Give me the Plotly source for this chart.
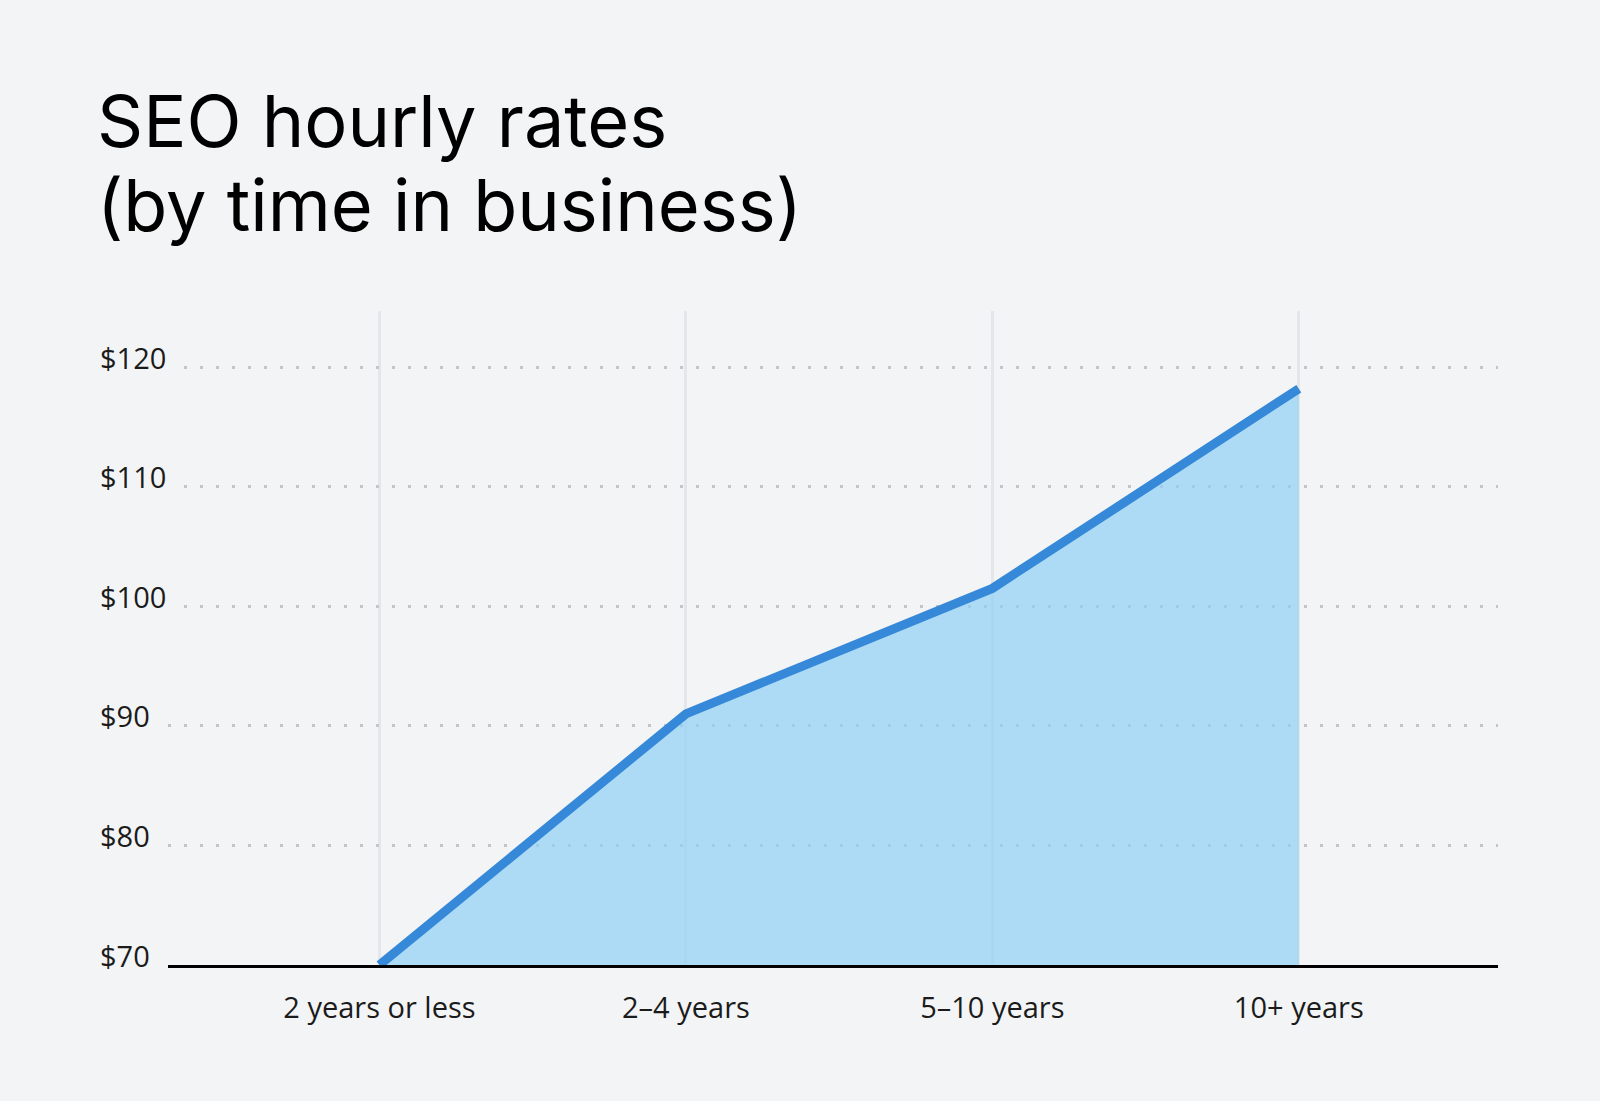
import plotly.graph_objects as go

categories = ["2 years or less", "2\u20134 years", "5\u201310 years", "10+ years"]
rates = [70, 91, 101.5, 118.2]
tick_values = [70, 80, 90, 100, 110, 120]
tick_labels = ["$70", "$80", "$90", "$100", "$110", "$120"]
title_lines = ["SEO hourly rates", "(by time in business)"]

BG = "#f3f4f6"
W, H = 1600, 1101
L, R, T, B = 168, 102, 311, 136
plot_w = W - L - R
plot_h = H - T - B


def paper_y(px):
    return (H - B - px) / plot_h


fig = go.Figure()
fig.add_trace(go.Scatter(
    x=categories, y=rates, mode="lines",
    line=dict(color="#3589d8", width=9),
    fill="tozeroy", fillcolor="rgba(142,208,246,0.7)",
    hoverinfo="skip", showlegend=False,
))

annotations = []
for v, t in zip(tick_values, tick_labels):
    annotations.append(dict(
        x=(100 - 10 - L) / plot_w, xref="paper", xanchor="left",
        y=v, yref="y", yanchor="middle", yshift=10,
        text=t, showarrow=False,
        font=dict(family="Open Sans", size=29, color="#1b1b1b"),
        bgcolor=BG, borderpad=10, borderwidth=0,
    ))

for line, bottom_px in zip(title_lines, [164, 248]):
    annotations.append(dict(
        x=(97 - L) / plot_w, xref="paper", xanchor="left",
        y=paper_y(bottom_px), yref="paper", yanchor="bottom",
        text=line, showarrow=False, borderpad=0, borderwidth=0,
        font=dict(family="Inter", size=72, color="#000000"),
    ))

fig.update_layout(
    width=W, height=H,
    paper_bgcolor=BG, plot_bgcolor=BG,
    margin=dict(l=L, r=R, t=T, b=B, pad=0),
    xaxis=dict(
        type="category", range=[-0.69, 3.65],
        showgrid=True, gridcolor="#e4e6e9", gridwidth=3,
        showline=True, linecolor="#000000", linewidth=3,
        ticks="", ticklabelstandoff=15,
        tickfont=dict(family="Open Sans", size=29, color="#1b1b1b"),
        zeroline=False, fixedrange=True,
    ),
    yaxis=dict(
        range=[70, 124.7], tickvals=tick_values,
        showticklabels=False, showgrid=True,
        gridcolor="#c4c5c7", gridwidth=3, griddash="3px,13px",
        zeroline=False, showline=False, ticks="", fixedrange=True,
    ),
    annotations=annotations,
)

fig.write_html("out.html", config={"displayModeBar": False},
               post_script="document.body.style.margin='0';")
